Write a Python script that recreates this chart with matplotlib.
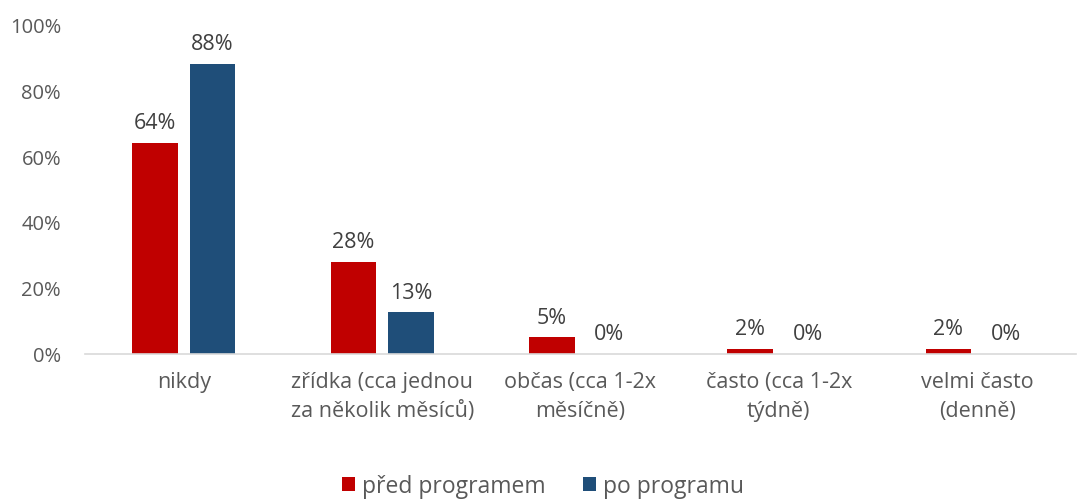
import numpy as np
from matplotlib import pyplot as plt
from matplotlib.ticker import PercentFormatter

kategorie = ["nikdy", "zřídka (cca jednou\nza několik měsíců)", "občas (cca 1-2x\nměsíčně)",
             "často (cca 1-2x\ntýdně)", "velmi často\n(denně)"]
pred = [64, 28, 5, 1.6, 1.6]
po = [88, 12.6, 0, 0, 0]
serie = ["před programem", "po programu"]

plt.rcParams['font.family'] = ['Open Sans', 'DejaVu Sans']

fig = plt.figure(figsize=(10.86, 5.02), dpi=100)
ax = fig.add_axes([0.078, 0.293, 0.913, 0.657])

x = np.arange(len(kategorie))
w = 0.23
b1 = ax.bar(x - 0.145, pred, w, color='#C00000', label=serie[0])
b2 = ax.bar(x + 0.145, po, w, color='#1F4E79', label=serie[1])

for bars in (b1, b2):
    for b in bars:
        h = b.get_height()
        ax.annotate(f"{h:.0f}%", (b.get_x() + b.get_width() / 2, h), xytext=(0, 7),
                    textcoords='offset points', ha='center', va='bottom',
                    fontsize=15.5, color='#404040')

ax.set_ylim(0, 100)
ax.set_xlim(-0.5, len(kategorie) - 0.5)
ax.yaxis.set_major_formatter(PercentFormatter(decimals=0))
ax.set_yticks(range(0, 101, 20))
ax.set_xticks(x)
ax.set_xticklabels(kategorie, linespacing=1.5, fontsize=15.5)
ax.tick_params(axis='both', length=0, colors='#595959')
ax.tick_params(axis='x', pad=12)
ax.tick_params(axis='y', pad=17, labelsize=14.5)
for s in ['top', 'right', 'left']:
    ax.spines[s].set_visible(False)
ax.spines['bottom'].set_color('#D9D9D9')
ax.spines['bottom'].set_linewidth(1.2)

fig.legend(loc='center', bbox_to_anchor=(0.5, 0.03), ncol=2, frameon=False,
           fontsize=16.5, handlelength=0.6, handleheight=0.6, handletextpad=0.3,
           columnspacing=1.6, labelcolor='#595959')

plt.savefig('out.png')
